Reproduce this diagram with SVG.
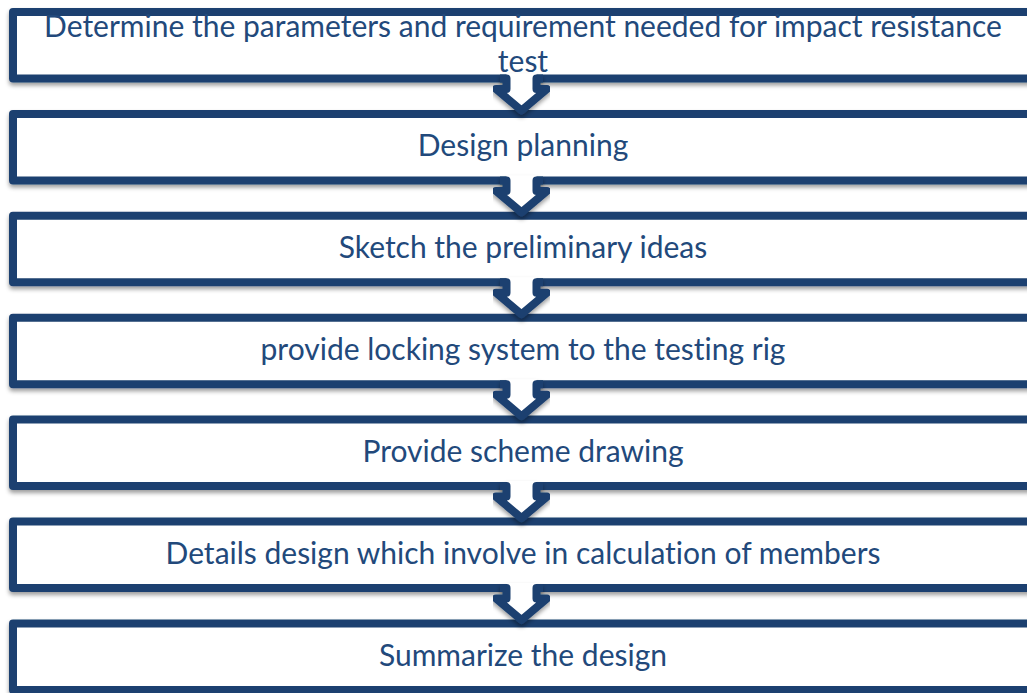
<svg xmlns="http://www.w3.org/2000/svg" width="1027" height="693" viewBox="0 0 1027 693">
  <defs>
    <filter id="shadow" x="-5%" y="-20%" width="110%" height="150%">
      <feDropShadow dx="0" dy="3" stdDeviation="2.2" flood-color="#000" flood-opacity="0.38"/>
    </filter>
    <!-- down arrow joining a box's bottom edge to the next box; origin at the shaft top -->
    <g id="arrow">
      <path d="M 506.5 -5 L 506.5 10.5 L 496 10.5 L 521.5 32 L 547 10.5 L 536.5 10.5 L 536.5 -5 Z" fill="#fff" stroke="none"/>
      <path d="M 500 0 L 506.5 0 L 506.5 10.5 L 496 10.5 L 521.5 32 L 547 10.5 L 536.5 10.5 L 536.5 0 L 543 0" class="edge"/>
    </g>
  </defs>
  <style>
    .box { fill: #fff; stroke: #1d406f; stroke-width: 8; stroke-linejoin: round; }
    .edge { fill: none; stroke: #1d406f; stroke-width: 8; stroke-linejoin: round; }
    .label { font-family: Lato, "Open Sans", sans-serif; font-size: 30px; fill: #22497b; text-anchor: middle; font-variant-ligatures: none; }
  </style>

  <rect width="1027" height="693" fill="#fff"/>

  <g id="nodes" filter="url(#shadow)">
    <g id="step1"><rect class="box" x="13" y="12" width="1020" height="66.5"/></g>
    <g id="step2"><rect class="box" x="13" y="113.9" width="1020" height="66.5"/></g>
    <g id="step3"><rect class="box" x="13" y="215.8" width="1020" height="66.5"/></g>
    <g id="step4"><rect class="box" x="13" y="317.7" width="1020" height="66.5"/></g>
    <g id="step5"><rect class="box" x="13" y="419.6" width="1020" height="66.5"/></g>
    <g id="step6"><rect class="box" x="13" y="521.5" width="1020" height="66.5"/></g>
    <g id="step7"><rect class="box" x="13" y="623.4" width="1020" height="66.5"/></g>
  </g>

  <g id="connectors" filter="url(#shadow)">
    <use href="#arrow" y="78.5"/>
    <use href="#arrow" y="180.4"/>
    <use href="#arrow" y="282.3"/>
    <use href="#arrow" y="384.2"/>
    <use href="#arrow" y="486.1"/>
    <use href="#arrow" y="588"/>
  </g>

  <g id="labels">
    <text class="label" x="523" y="37">Determine the parameters and requirement needed for impact resistance</text>
    <text class="label" x="523" y="72">test</text>
    <text class="label" x="523" y="156">Design planning</text>
    <text class="label" x="523" y="258">Sketch the preliminary ideas</text>
    <text class="label" x="523" y="360">provide locking system to the testing rig</text>
    <text class="label" x="523" y="462">Provide scheme drawing</text>
    <text class="label" x="523" y="564">Details design which involve in calculation of members</text>
    <text class="label" x="523" y="666">Summarize the design</text>
  </g>
</svg>
